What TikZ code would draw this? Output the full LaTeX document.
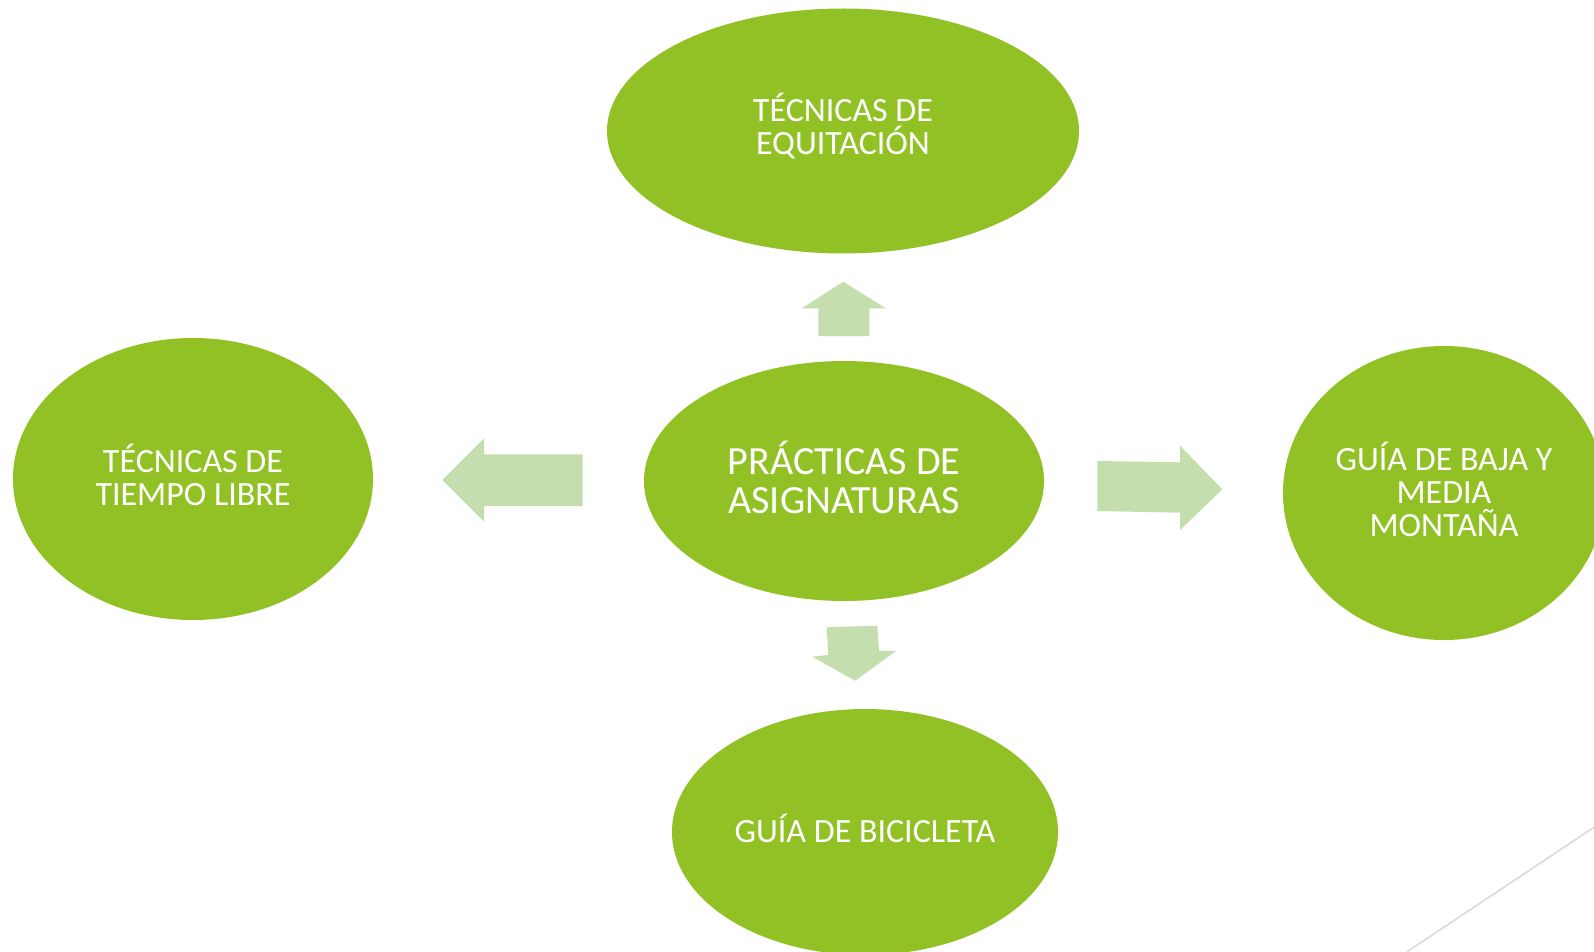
\documentclass[tikz,border=0pt]{standalone}
\usepackage{fontspec}
\setmainfont{Carlito}
\usetikzlibrary{shapes.geometric}
\definecolor{ellgreen}{HTML}{92C125}
\definecolor{arrgreen}{HTML}{C5DEAD}
\definecolor{linegray}{HTML}{D9D9D9}
\tikzset{
  bubble/.style={ellipse, fill=ellgreen, inner sep=0pt},
  bubbletext/.style={text=white, align=center, inner sep=0pt, yshift=2pt,
    font=\fontsize{34}{33}\selectfont},
  blockarrow/.style={fill=arrgreen, draw=none}
}
\begin{document}
\begin{tikzpicture}[x=1pt,y=-1pt]
\useasboundingbox (0,0) rectangle (1594,952);
\clip (0,0) rectangle (1594,952);
\fill[white] (0,0) rectangle (1594,952);
% ellipses
\node[bubble, minimum width=472pt, minimum height=245pt] (top) at (843,131) {};
\node[bubble, minimum width=400pt, minimum height=240pt] (center) at (844,481) {};
\node[bubble, minimum width=360pt, minimum height=282pt] (left) at (193,479) {};
\node[bubble, minimum width=322pt, minimum height=294pt] (right) at (1444,493) {};
\node[bubble, minimum width=386pt, minimum height=246pt] (bottom) at (865,832) {};
% texts
\node[bubbletext] (toptext) at (843,128) {TÉCNICAS DE\\EQUITACIÓN};
\node[bubbletext, yshift=2pt, font=\fontsize{40}{39}\selectfont] (centertext) at (center.center) {PRÁCTICAS DE\\ASIGNATURAS};
\node[bubbletext] (lefttext) at (193,477) {TÉCNICAS DE\\TIEMPO LIBRE};
\node[bubbletext] (righttext) at (1444,491.5) {GUÍA DE BAJA Y\\MEDIA\\MONTAÑA};
\node[bubbletext] (bottomtext) at (865,830.5) {GUÍA DE BICICLETA};
% block arrows
\fill[blockarrow] (818.3,336) -- (818.3,308.3) -- (801.7,308.3) -- (843.3,281.7) -- (885.7,308.3) -- (869.3,308.3) -- (869.3,336) -- cycle;
\fill[blockarrow] (582.7,454.3) -- (484,454.3) -- (484,438.3) -- (442.3,480) -- (484,521.7) -- (484,506) -- (582.7,506) -- cycle;
\fill[blockarrow] (1097.3,461) -- (1180,462.3) -- (1180,445.7) -- (1222.3,489.3) -- (1180,530) -- (1180,512.7) -- (1097.3,511) -- cycle;
\fill[blockarrow] (826.7,627.3) -- (877.3,625.7) -- (879,650.7) -- (896,651) -- (855,680.7) -- (812.3,656.7) -- (828.3,655) -- cycle;
% decorative line
\coordinate (la) at (1406.7,952);
\coordinate (lb) at (1594,827.3);
\draw[linegray, line width=1.5pt] (la) -- (lb);
\end{tikzpicture}
\end{document}
